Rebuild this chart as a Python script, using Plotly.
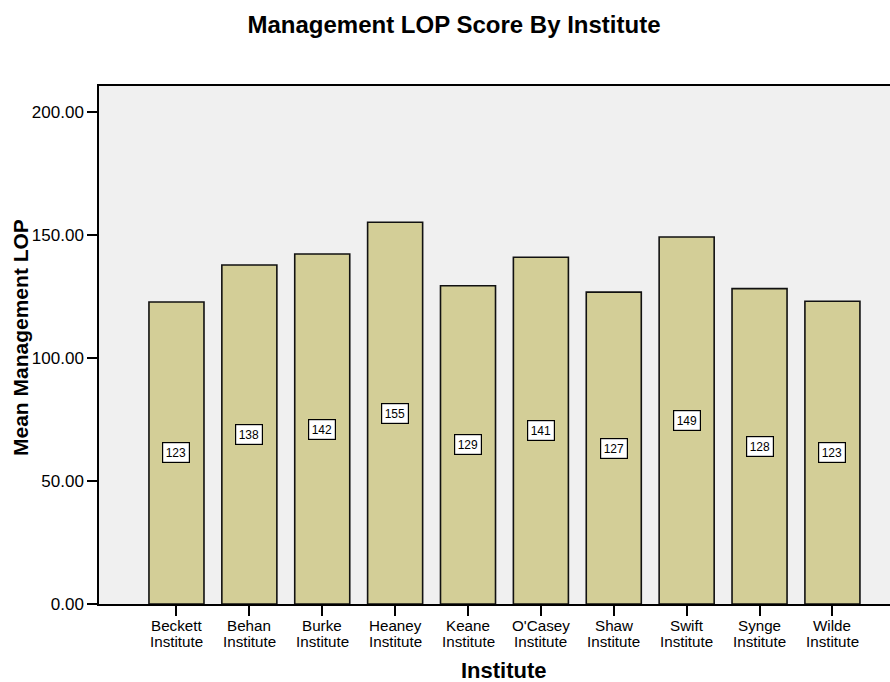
import plotly.graph_objects as go

institutes = ["Beckett", "Behan", "Burke", "Heaney", "Keane", "O'Casey", "Shaw", "Swift", "Synge", "Wilde"]
second_line = "Institute"
mean_lop = [122.8, 137.8, 142.3, 155.2, 129.4, 141.0, 126.8, 149.2, 128.2, 123.1]
label_text = ["123", "138", "142", "155", "129", "141", "127", "149", "128", "123"]
y_ticks = [0, 50, 100, 150, 200]

fig = go.Figure()
fig.add_trace(go.Bar(
    x=institutes, y=mean_lop, width=0.755,
    marker=dict(color="#D3CE97", line=dict(color="#111111", width=1.6)),
    hoverinfo="skip",
))

for xl, v, t in zip(institutes, mean_lop, label_text):
    fig.add_annotation(x=xl, y=v / 2, text=t, showarrow=False,
                       font=dict(family="Arial", size=12, color="black"),
                       bgcolor="white", bordercolor="black", borderwidth=1.2,
                       borderpad=2.5)

# two-line category labels
for xl in institutes:
    fig.add_annotation(x=xl, xref="x", y=0, yref="paper", yanchor="middle", yshift=-21.5,
                       text=xl, showarrow=False, font=dict(family="Arial", size=15.2))
    fig.add_annotation(x=xl, xref="x", y=0, yref="paper", yanchor="middle", yshift=-37.5,
                       text=second_line, showarrow=False, font=dict(family="Arial", size=15.2))

# axis titles
fig.add_annotation(x=(503.5 - 99) / 791, xref="paper", y=0, yref="paper", yanchor="middle",
                   yshift=-66.5, text="<b>Institute</b>", showarrow=False,
                   font=dict(family="Arial", size=22))
fig.add_annotation(x=(20 - 99) / 791, xref="paper", xanchor="center", y=(604 - 338) / 518,
                   yref="paper", yanchor="middle", textangle=-90,
                   text="<b>Mean Management LOP</b>", showarrow=False,
                   font=dict(family="Arial", size=21))

fig.update_layout(
    width=890, height=682,
    margin=dict(l=99, r=0, t=86, b=78, autoexpand=False),
    paper_bgcolor="white", plot_bgcolor="#F0F0F0",
    font=dict(family="Arial", color="black"),
    title=dict(text="<b>Management LOP Score By Institute</b>", x=454 / 890, xanchor="center",
               xref="container", y=1 - 25 / 682, yanchor="middle", font=dict(size=24)),
    showlegend=False,
)
fig.update_xaxes(
    range=[-1.063, 9.79], showline=True, linecolor="black", linewidth=1.5, mirror=True,
    ticks="outside", ticklen=10, tickcolor="black", tickwidth=1.5,
    showticklabels=False, showgrid=False, automargin=False,
)
fig.update_yaxes(
    range=[0, 210.6], showline=True, linecolor="black", linewidth=1.5,
    ticks="outside", ticklen=10, tickcolor="black", tickwidth=1.5,
    tickvals=y_ticks, tickformat=".2f", tickfont=dict(size=17), showgrid=False,
    zeroline=False, automargin=False,
)

fig.write_html("out.html", config={"displayModeBar": False},
               post_script="document.body.style.margin='0';document.body.style.overflow='hidden';")
